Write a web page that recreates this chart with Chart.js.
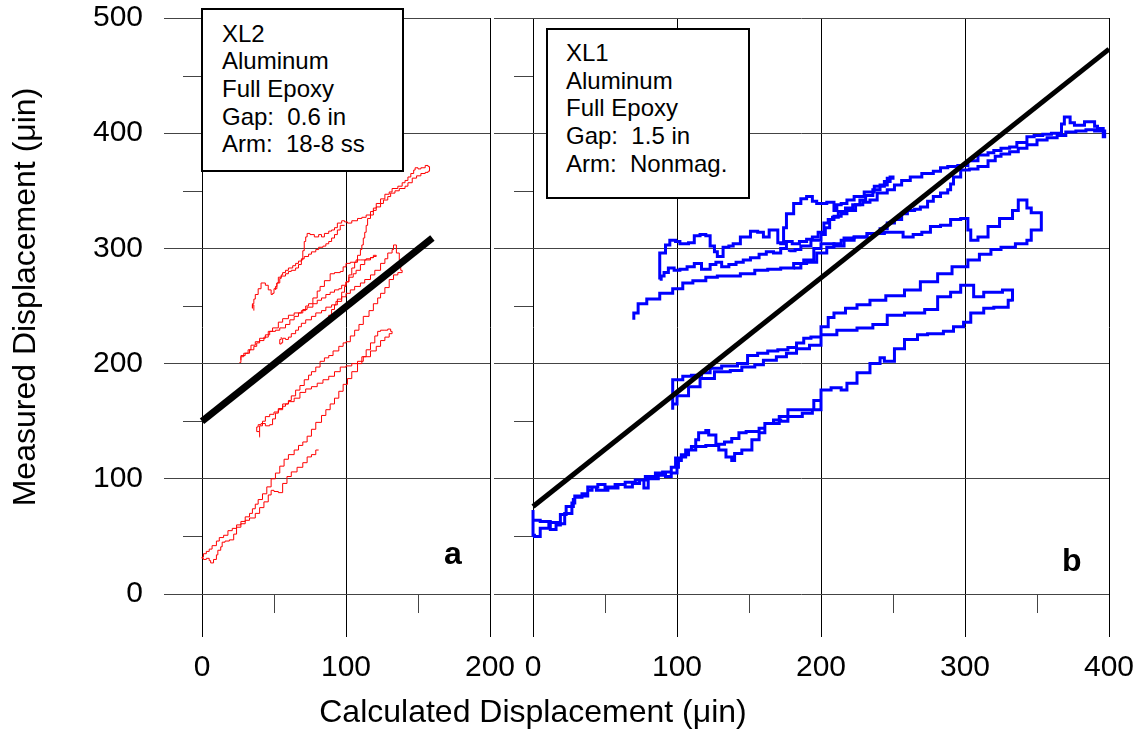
<!DOCTYPE html>
<html>
<head>
<meta charset="utf-8">
<script src="https://cdn.jsdelivr.net/npm/chart.js@4/dist/chart.umd.min.js"></script>
<style>
html,body{margin:0;padding:0;background:#fff;}
#wrap{position:relative;width:1140px;height:729px;overflow:hidden;font-family:Arial,"Liberation Sans",Helvetica,sans-serif;color:#000;}
canvas{position:absolute;left:0;top:0;}
.box{position:absolute;background:#fff;border:2px solid #000;box-sizing:border-box;font-size:24px;line-height:27.7px;white-space:pre;z-index:5;}
.lab{position:absolute;font-weight:bold;font-size:32px;line-height:32px;z-index:5;}
.title{position:absolute;font-size:32px;line-height:32px;text-align:center;white-space:nowrap;z-index:5;}
</style>
</head>
<body>
<div id="wrap">
  <canvas id="chartA" width="1140" height="729"></canvas>
  <canvas id="chartB" width="1140" height="729"></canvas>
  <div class="box" style="left:201px;top:8px;width:203px;height:164px;padding:9.6px 0 0 19px;">XL2
Aluminum
Full Epoxy
Gap:  0.6 in
Arm:  18-8 ss</div>
  <div class="box" style="left:546px;top:28px;width:204px;height:171px;padding:8.8px 0 0 18px;">XL1
Aluminum
Full Epoxy
Gap:  1.5 in
Arm:  Nonmag.</div>
  <div class="lab" style="left:444px;top:537px;">a</div>
  <div class="lab" style="left:1062px;top:544px;">b</div>
  <div class="title" style="left:233px;top:695px;width:600px;">Calculated Displacement (μin)</div>
  <div class="title" style="left:-276px;top:281px;width:600px;height:32px;transform:rotate(-90deg);">Measured Displacement (μin)</div>
</div>
<script>
// ---------- axes ----------
const yTicks = [0, 100, 200, 300, 400, 500];
const yMinor = [50, 150, 250, 350, 450];
const xTicksA = [0, 100, 200];
const xMinorA = [50, 150];
const xTicksB = [0, 100, 200, 300, 400];
const xMinorB = [50, 150, 250, 350];
const yRange = [-37.3, 500];
const xRangeA = [-26.4, 200];
const xRangeB = [-27.1, 400];

// ---------- panel a (XL2) ----------
const fitA = [[0,150],[160,309]];
const redLoop1 = [[81,125],[79,121],[76,119],[73,114],[70,110],[66,106],[62,102],[59,96],[56,88],[53,89],[50,90],[48,86],[46,80],[43,75],[40,70],[37,66],[33,64],[30,61],[27,58],[24,52],[22,47],[19,46],[16,45],[14,41],[13,38],[11,34],[10,30],[8,27],[6,29],[5,31],[3,30],[1,31],[0,32],[1,35],[3,37],[5,39],[7,42],[10,46],[12,49],[15,51],[18,55],[21,57],[24,60],[27,63],[30,67],[33,70],[35,74],[37,78],[39,82],[42,87],[45,93],[48,100],[51,105],[54,111],[57,117],[60,121],[64,125],[67,129],[70,132],[73,137],[76,143],[79,149],[83,155],[86,160],[89,165],[92,170],[95,176],[98,182],[101,187],[104,193],[108,200],[111,206],[114,212],[117,218],[120,224],[122,228],[124,229],[127,229],[129,230],[131,228],[132,226],[130,223],[127,220],[124,215],[121,211],[117,206],[112,202],[108,200],[104,198],[100,197],[96,193],[92,189],[88,186],[84,183],[80,180],[76,178],[72,175],[68,170],[64,167],[60,165],[56,161],[53,157],[51,152],[49,147],[47,146],[44,148],[41,147],[39,145],[38,141],[40,137],[40,136]];
const redLoop2 = [[40,141],[40,146],[42,150],[44,154],[47,156],[50,158],[53,160],[56,163],[58,165],[60,168],[62,172],[65,177],[68,181],[71,186],[74,190],[76,193],[79,197],[82,202],[85,205],[88,207],[91,211],[95,215],[98,218],[100,219],[103,224],[106,229],[109,234],[112,241],[116,246],[119,252],[122,257],[124,261],[127,266],[130,273],[133,277],[136,279],[139,281],[138,290],[137,296],[135,303],[133,299],[132,296],[129,291],[127,287],[124,281],[120,277],[117,273],[113,270],[110,267],[106,264],[103,261],[100,258],[97,254],[93,251],[90,249],[86,246],[83,244],[79,241],[76,238],[72,235],[69,232],[67,229],[65,226],[62,223],[60,221],[58,222],[56,218],[55,217],[54,221],[55,223]];
const redBand2 = [[26,201],[27,207],[30,209],[33,212],[36,215],[38,218],[40,220],[43,223],[46,228],[49,231],[53,236],[56,239],[60,242],[64,244],[69,246],[72,250],[74,252],[77,257],[80,263],[82,267],[85,272],[89,278],[92,279],[96,280],[98,284],[100,287],[103,288],[107,290],[110,290],[114,291],[117,292],[119,293],[121,294],[119,292],[117,290],[113,286],[110,281],[107,278],[105,275],[102,271],[100,268],[97,265],[95,264],[92,262],[89,260],[86,257],[83,255],[80,252],[77,249],[73,247],[70,244],[67,241],[64,238],[61,234],[58,231],[54,229],[51,228],[47,225],[44,222],[40,219],[37,216],[34,212],[32,209],[29,206],[27,203]];
const redTop = [[86,238],[88,242],[90,247],[92,251],[94,256],[97,262],[99,267],[100,271],[102,277],[104,283],[106,288],[108,294],[110,299],[111,303],[112,309],[113,314],[114,320],[115,326],[117,329],[119,333],[121,336],[124,339],[126,342],[129,345],[131,348],[134,350],[137,352],[141,354],[143,357],[146,361],[149,363],[152,365],[155,366],[157,367],[158,371],[157,372],[155,370],[152,369],[150,370],[148,368],[147,365],[145,362],[143,359],[141,357],[139,354],[136,352],[132,349],[130,347],[127,343],[124,339],[121,335],[119,332],[117,329],[114,327],[111,326],[108,324],[104,322],[101,323],[99,324],[97,322],[94,318],[92,316],[90,315],[88,313],[85,310],[83,312],[81,310],[78,312],[75,313],[73,310],[72,306],[71,298],[70,290],[69,286],[67,283],[65,281],[62,280],[60,278],[58,276],[55,274],[54,270],[52,265],[50,261],[49,260],[48,264],[46,268],[44,270],[43,270],[41,265],[39,260],[37,256],[36,252],[35,248],[35,251],[36,246]];
const redTop2 = [[99,320],[96,316],[94,312],[92,309],[90,306],[88,304],[86,302],[84,301],[81,299],[79,297],[76,295],[74,293],[71,291],[69,289],[67,287],[65,285],[63,283],[60,281],[58,279],[56,277],[55,275],[53,270],[52,267],[51,264]];

// ---------- panel b (XL1) ----------
const fitB = [[0,76],[400,473]];
const blueTrace1 = [[201,167],[200,160],[194,157],[187,154],[178,154],[171,148],[161,140],[157,134],[152,125],[145,122],[140,116],[138,119],[134,125],[129,129],[120,128],[115,128],[110,125],[106,119],[103,116],[101,110],[100,105],[96,102],[92,105],[85,102],[78,99],[71,97],[64,95],[57,93],[52,90],[48,90],[44,93],[38,90],[38,85],[33,85],[29,82],[28,76],[23,69],[19,60],[16,56],[12,61],[11,57],[6,57],[5,50],[1,51],[0,56],[0,73],[0,64],[5,63],[12,62],[18,61],[22,70],[27,79],[29,84],[34,87],[38,90],[41,93],[45,95],[50,92],[55,92],[59,95],[64,93],[69,96],[74,99],[77,92],[80,100],[87,103],[90,106],[96,110],[99,118],[103,121],[108,125],[113,134],[115,140],[120,142],[122,138],[127,137],[127,130],[133,132],[138,135],[143,140],[148,141],[157,144],[161,148],[167,151],[172,150],[177,160],[186,160],[195,168],[200,177],[207,179],[214,177],[218,183],[225,192],[234,200],[241,205],[244,202],[251,213],[258,221],[267,225],[274,226],[285,228],[292,232],[299,236],[304,244],[313,248],[320,249],[330,255],[333,254],[333,264],[326,262],[320,262],[313,258],[306,268],[297,262],[290,258],[281,247],[272,244],[258,242],[246,234],[236,231],[225,229],[211,225],[200,216],[192,213],[183,209],[176,206],[169,203],[160,199],[154,197],[145,194],[137,193],[126,187],[116,180],[108,172],[100,165],[97,162],[97,160],[97,186],[100,186],[104,189],[110,190],[117,192],[123,196],[131,198],[142,200],[149,207],[156,209],[163,211],[170,212],[177,214],[183,218],[188,222],[193,223],[200,232],[205,240],[209,244],[217,248],[225,251],[234,255],[245,259],[258,264],[269,271],[281,278],[291,284],[302,290],[310,295],[318,299],[325,301],[335,304],[343,307],[346,316],[353,320],[353,331],[346,335],[343,342],[339,342],[337,333],[333,326],[324,319],[316,310],[309,307],[304,316],[302,326],[297,325],[290,320],[283,319],[276,314],[270,312],[264,310],[257,314],[251,314],[244,313],[232,310],[223,309],[216,302],[209,304],[200,300],[195,290],[188,287],[181,283],[172,282],[163,281],[154,278],[144,276],[136,276],[128,275],[120,272],[111,270],[104,265],[97,261],[88,256],[79,252],[73,244],[70,238]];
const blueTrace2 = [[88,273],[88,296],[92,303],[95,307],[99,306],[102,304],[108,305],[112,311],[116,312],[120,311],[123,302],[126,297],[128,293],[132,301],[136,302],[139,304],[144,310],[151,315],[156,314],[160,310],[164,316],[167,316],[170,305],[172,304],[174,318],[176,330],[181,339],[186,343],[190,345],[194,341],[197,339],[204,340],[209,333],[211,338],[214,339],[218,342],[223,345],[230,349],[237,354],[244,358],[248,362],[250,361],[246,355],[241,351],[236,346],[231,342],[227,338],[222,335],[217,332],[212,327],[208,325],[205,322],[202,314],[198,310],[194,308],[190,306],[185,304],[180,306],[176,300],[172,296],[167,297],[162,295],[157,292],[151,290],[146,288],[141,286],[136,284],[131,288],[127,286],[123,282],[117,287],[112,284],[107,282],[102,281],[98,283],[94,279],[91,276],[89,272]];
const blueTrace3 = [[181,283],[186,287],[190,288],[197,296],[204,301],[209,304],[214,307],[223,310],[232,313],[241,317],[246,322],[251,325],[256,330],[260,333],[265,334],[269,336],[274,341],[278,345],[283,348],[288,351],[290,356],[292,362],[297,368],[303,369],[309,371],[316,376],[321,380],[325,382],[331,384],[337,387],[343,390],[350,394],[357,396],[364,398],[370,401],[377,402],[384,403],[390,402],[397,397],[396,404],[392,406],[390,410],[383,407],[376,409],[373,414],[369,408],[367,400],[360,399],[354,398],[348,397],[343,392],[336,388],[331,387],[325,385],[320,383],[316,381],[309,376],[302,372],[295,371],[288,370],[283,367],[278,365],[270,362],[262,359],[256,355],[251,351],[246,348],[239,342],[234,340],[229,338],[224,333],[218,330],[214,328],[209,325],[206,318],[203,312],[200,307],[193,302],[186,299],[182,298],[178,297]];

// ---------- drawing ----------
const FONT = 'Arial, "Liberation Sans", Helvetica, sans-serif';
Chart.defaults.font.family = FONT;
const pts = arr => arr.map(([x, y]) => ({x, y}));

const minorTicksPlugin = {
  id: 'minorTicks',
  beforeDatasetsDraw(chart, args, opts) {
    const {ctx, scales: {x, y}} = chart;
    const x0 = x.getPixelForValue(0), y0 = y.getPixelForValue(0);
    ctx.save();
    ctx.strokeStyle = '#444';
    ctx.lineWidth = 1;
    ctx.beginPath();
    for (const v of opts.yMinor) {
      const py = Math.round(y.getPixelForValue(v)) + 0.5;
      ctx.moveTo(x0 - 19, py); ctx.lineTo(x0, py);
    }
    for (const v of opts.xMinor) {
      const px = Math.round(x.getPixelForValue(v)) + 0.5;
      ctx.moveTo(px, y0); ctx.lineTo(px, y0 + 19);
    }
    ctx.stroke();
    ctx.restore();
  }
};

function line(data, color, width, stepped) {
  return {data: pts(data), showLine: true, borderColor: color, backgroundColor: color,
          borderWidth: width, pointRadius: 0, tension: 0, fill: false, stepped: stepped || false,
          borderJoinStyle: 'miter', borderCapStyle: 'butt'};
}

function noPad(s) { s.paddingTop = 0; s.paddingBottom = 0; s.paddingLeft = 0; s.paddingRight = 0; }

function makeChart(id, datasets, cfg) {
  return new Chart(document.getElementById(id), {
    type: 'scatter',
    data: {datasets},
    options: {
      responsive: false,
      animation: false,
      events: [],
      layout: {padding: cfg.padding},
      plugins: {legend: {display: false}, tooltip: {enabled: false},
                minorTicks: {yMinor: yMinor, xMinor: cfg.xMinor}},
      scales: {
        x: {
          type: 'linear', min: cfg.xRange[0], max: cfg.xRange[1],
          afterBuildTicks: s => { s.ticks = cfg.xTicks.map(v => ({value: v})); },
          afterFit: s => { s.height = 92; noPad(s); },
          grid: {color: '#000', lineWidth: 1, drawTicks: false},
          border: {display: false},
          ticks: {color: '#000', font: {size: 30, lineHeight: 1}, padding: 16, maxRotation: 0, minRotation: 0, autoSkip: false}
        },
        y: {
          type: 'linear', min: yRange[0], max: yRange[1],
          afterBuildTicks: s => { s.ticks = yTicks.map(v => ({value: v})); },
          afterFit: s => { s.width = cfg.yWidth; noPad(s); },
          grid: {color: '#444', lineWidth: 1, drawTicks: false},
          border: {display: false},
          ticks: {display: cfg.yLabels, color: '#000', font: {size: 30, lineHeight: 1}, padding: 21, autoSkip: false}
        }
      }
    },
    plugins: [minorTicksPlugin]
  });
}

makeChart('chartA', [
  line(fitA, '#000', 7),
  line(redLoop1, '#ff0000', 1, 'before'),
  line(redLoop2, '#ff0000', 1, 'before'),
  line(redBand2, '#ff0000', 1, 'before'),
  line(redTop, '#ff0000', 1, 'before'),
  line(redTop2, '#ff0000', 1, 'before')
], {padding: {left: 0, right: 650, top: 18, bottom: 0}, xRange: xRangeA, xTicks: xTicksA, xMinor: xMinorA, yWidth: 164, yLabels: true});

makeChart('chartB', [
  line(fitB, '#000', 5),
  line(blueTrace1, '#0000ff', 3, 'before'),
  line(blueTrace2, '#0000ff', 3, 'before'),
  line(blueTrace3, '#0000ff', 3, 'before')
], {padding: {left: 494, right: 31, top: 18, bottom: 0}, xRange: xRangeB, xTicks: xTicksB, xMinor: xMinorB, yWidth: 0, yLabels: false});
</script>
</body>
</html>
